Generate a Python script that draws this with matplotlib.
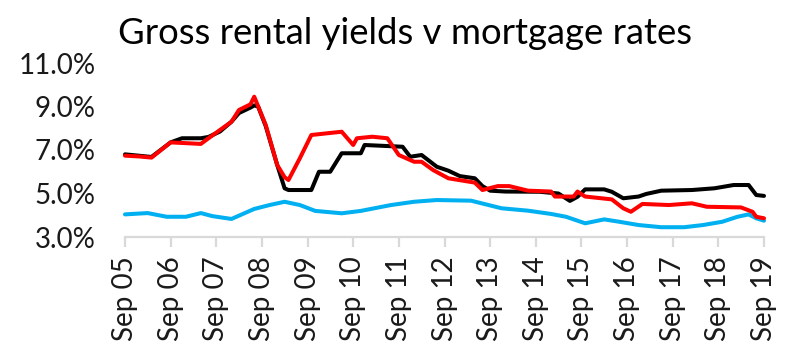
import matplotlib
matplotlib.use("Agg")
import matplotlib.pyplot as plt
import matplotlib.dates as mdates
import pandas as pd

# ---- data ----
black_dates = ["2005-09", "2006-04", "2006-09", "2006-12", "2007-05", "2007-07", "2007-10",
               "2008-01", "2008-03", "2008-06", "2008-07", "2008-08", "2008-10", "2009-01",
               "2009-03", "2009-04", "2009-10", "2009-12", "2010-03", "2010-06", "2010-11",
               "2010-12", "2011-10", "2011-12", "2012-03", "2012-07", "2012-10", "2013-01",
               "2013-05", "2013-07", "2013-09", "2014-01", "2014-10", "2015-03", "2015-06",
               "2015-08", "2015-10", "2016-03", "2016-05", "2016-08", "2016-12", "2017-02",
               "2017-06", "2018-02", "2018-08", "2019-01", "2019-05", "2019-07", "2019-09"]
black_vals = [6.80, 6.68, 7.35, 7.54, 7.54, 7.60, 7.85,
              8.30, 8.70, 8.95, 9.05, 9.00, 8.10, 6.31,
              5.24, 5.16, 5.16, 6.00, 6.00, 6.85, 6.85,
              7.23, 7.15, 6.69, 6.77, 6.23, 6.05, 5.80,
              5.70, 5.34, 5.13, 5.09, 5.08, 5.00, 4.66,
              4.85, 5.19, 5.19, 5.08, 4.78, 4.86, 4.98,
              5.13, 5.16, 5.24, 5.39, 5.39, 4.93, 4.89]

red_dates = ["2005-09", "2006-01", "2006-04", "2006-09", "2007-05", "2007-07", "2007-10",
             "2008-01", "2008-03", "2008-06", "2008-07", "2008-10", "2009-01", "2009-03",
             "2009-04", "2009-07", "2009-10", "2010-06", "2010-09", "2010-10", "2011-02",
             "2011-06", "2011-09", "2012-01", "2012-03", "2012-06", "2012-10", "2013-05",
             "2013-07", "2013-11", "2014-02", "2014-07", "2015-01", "2015-02", "2015-07",
             "2015-08", "2015-10", "2016-05", "2016-08", "2016-10", "2017-01", "2017-08",
             "2018-02", "2018-06", "2019-03", "2019-06", "2019-07", "2019-09"]
red_vals = [6.74, 6.70, 6.65, 7.35, 7.28, 7.54, 7.92,
            8.30, 8.84, 9.10, 9.45, 8.15, 6.31, 5.75,
            5.62, 6.62, 7.69, 7.84, 7.23, 7.54, 7.61,
            7.54, 6.77, 6.46, 6.46, 6.08, 5.70, 5.50,
            5.16, 5.34, 5.34, 5.13, 5.09, 4.86, 4.86,
            5.09, 4.86, 4.73, 4.32, 4.16, 4.52, 4.47,
            4.55, 4.39, 4.36, 4.16, 3.93, 3.86]

blue_dates = ["2005-09", "2006-03", "2006-08", "2007-01", "2007-05", "2007-08", "2008-01",
              "2008-07", "2008-11", "2009-03", "2009-07", "2009-11", "2010-06", "2010-11",
              "2011-07", "2012-01", "2012-07", "2013-04", "2013-12", "2014-07", "2015-01",
              "2015-05", "2015-10", "2016-03", "2016-07", "2016-12", "2017-06", "2017-12",
              "2018-05", "2018-10", "2019-02", "2019-05", "2019-07", "2019-09"]
blue_vals = [4.04, 4.10, 3.93, 3.93, 4.10, 3.96, 3.83,
             4.29, 4.47, 4.62, 4.47, 4.20, 4.09, 4.20,
             4.47, 4.62, 4.70, 4.67, 4.32, 4.21, 4.06,
             3.93, 3.63, 3.81, 3.70, 3.55, 3.45, 3.45,
             3.55, 3.70, 3.93, 4.04, 3.86, 3.75]

y_ticks = [3, 5, 7, 9, 11]
y_tick_labels = ["3.0%", "5.0%", "7.0%", "9.0%", "11.0%"]
x_tick_years = list(range(2005, 2020))
title = "Gross rental yields v mortgage rates"

# ---- figure ----
plt.rcParams['font.family'] = ['Lato', 'DejaVu Sans']
fig = plt.figure(figsize=(8.01, 3.58), dpi=100)
ax = fig.add_axes([125 / 801, 1 - 237 / 358, (764 - 125) / 801, (237 - 63) / 358])

txt = '#1a1a1a'
lw = 2.9
ax.plot(pd.to_datetime(black_dates), black_vals, color='#000000', lw=lw, clip_on=False,
        solid_joinstyle='round', solid_capstyle='round')
ax.plot(pd.to_datetime(blue_dates), blue_vals, color='#00b0f0', lw=lw, clip_on=False,
        solid_joinstyle='round', solid_capstyle='round')
ax.plot(pd.to_datetime(red_dates), red_vals, color='#ff0000', lw=lw, clip_on=False,
        solid_joinstyle='round', solid_capstyle='round')

ax.set_ylim(3, 11)
ax.set_yticks(y_ticks)
ax.set_yticklabels(y_tick_labels)
xt = pd.to_datetime([f"{y}-09-01" for y in x_tick_years])
ax.set_xlim(xt[0], xt[-1])
ax.set_xticks(xt)
ax.set_xticklabels([f"Sep {str(y)[2:]}" for y in x_tick_years], rotation=90)

for s in ['top', 'right', 'left']:
    ax.spines[s].set_visible(False)
ax.spines['bottom'].set_color('#d9d9d9')
ax.spines['bottom'].set_linewidth(1.6)
ax.spines['bottom'].set_zorder(0)
ax.tick_params(axis='y', length=0, pad=21, labelsize=20, labelcolor=txt)
ax.tick_params(axis='x', length=7, width=1.6, color='#d9d9d9', direction='out',
               pad=7, labelsize=20, labelcolor=txt)

fig.text(0.506, 1 - 44 / 358, title, ha='center', va='baseline', fontsize=26.3, color='#000000')

fig.savefig("out.png", dpi=100)
